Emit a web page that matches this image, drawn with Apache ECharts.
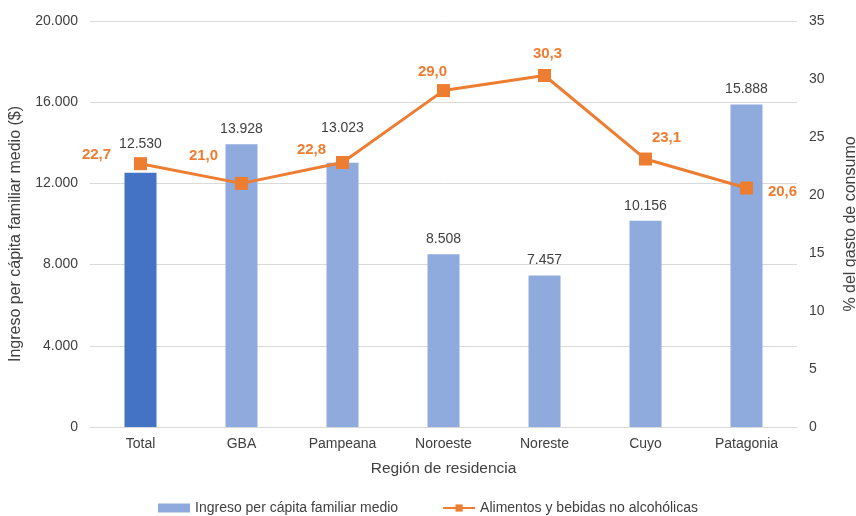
<!DOCTYPE html>
<html><head><meta charset="utf-8">
<script src="https://cdn.jsdelivr.net/npm/echarts@6/dist/echarts.min.js"></script>
<style>html,body{margin:0;padding:0;background:#fff}#c{width:856px;height:516px}</style>
</head><body><div id="c"></div>
<script>
const categories = ['Total','GBA','Pampeana','Noroeste','Noreste','Cuyo','Patagonia'];
const ingreso = [12530, 13928, 13023, 8508, 7457, 10156, 15888];
const alimentos = [22.7, 21.0, 22.8, 29.0, 30.3, 23.1, 20.6];
const leftTicks = [0, 4000, 8000, 12000, 16000, 20000];
const rightTicks = [0, 5, 10, 15, 20, 25, 30, 35];

const fmtThousands = v => String(Math.round(v)).replace(/\B(?=(\d{3})+(?!\d))/g, '.');
const fmtDec = v => v.toFixed(1).replace('.', ',');
const F = 'Liberation Sans, Arial, sans-serif';
const lineLabelOffsets = [[-44,-9],[-38,-28],[-31,-13],[-11,-19],[3,-22],[21,-21],[36,4]];
const barLabelOffsets = [[0,-14],[0,0],[0,-19],[0,0],[0,0],[0,0],[0,0]];

const chart = echarts.init(document.getElementById('c'));
chart.setOption({
  animation: false,
  textStyle: {fontFamily: F},
  grid: {left: 90, right: 59, top: 21, bottom: 89, outerBoundsMode: 'none', containLabel: false},
  legend: {
    bottom: -4, left: 'center', itemGap: 44, itemWidth: 32, itemHeight: 9,
    textStyle: {color: '#404040', fontSize: 14, fontFamily: F},
    data: [
      {name: 'Ingreso per cápita familiar medio', icon: 'rect', itemStyle: {color: '#8FAADC'}},
      {name: 'Alimentos y bebidas no alcohólicas'}
    ]
  },
  xAxis: {
    type: 'category', data: categories,
    name: 'Región de residencia', nameLocation: 'middle', nameGap: 34,
    nameTextStyle: {color: '#404040', fontSize: 15.5, fontFamily: F},
    axisLine: {lineStyle: {color: '#D9D9D9'}}, axisTick: {show: false},
    axisLabel: {color: '#404040', fontSize: 14, margin: 10, fontFamily: F}
  },
  yAxis: [
    {type: 'value', min: 0, max: 20000, interval: 4000,
     name: 'Ingreso per cápita familiar medio ($)', nameLocation: 'middle', nameGap: 66,
     nameTextStyle: {color: '#404040', fontSize: 16, fontFamily: F, padding: [0, 20, 0, 0]},
     axisLabel: {color: '#404040', fontSize: 14, margin: 12, formatter: fmtThousands, fontFamily: F},
     splitLine: {lineStyle: {color: '#D9D9D9'}}, axisLine: {show: false}, axisTick: {show: false}},
    {type: 'value', min: 0, max: 35, interval: 5,
     name: '% del gasto de consumo', nameLocation: 'middle', nameGap: 46,
     nameTextStyle: {color: '#404040', fontSize: 16, fontFamily: F},
     axisLabel: {color: '#404040', fontSize: 14, margin: 12, fontFamily: F},
     splitLine: {show: false}, axisLine: {show: false}, axisTick: {show: false}}
  ],
  series: [
    {name: 'Ingreso per cápita familiar medio', type: 'bar', yAxisIndex: 0, barWidth: 32,
     data: ingreso.map((v, i) => ({value: v, itemStyle: {color: i === 0 ? '#4472C4' : '#8FAADC'},
                                   label: {offset: barLabelOffsets[i]}})),
     label: {show: true, position: 'top', distance: 8, color: '#404040', fontSize: 14, fontFamily: F,
             formatter: p => fmtThousands(p.value)}},
    {name: 'Alimentos y bebidas no alcohólicas', type: 'line', yAxisIndex: 1, z: 3,
     symbol: 'rect', symbolSize: 13, itemStyle: {color: '#ED7D31'},
     lineStyle: {color: '#ED7D31', width: 3},
     data: alimentos.map((v, i) => ({value: v, label: {offset: lineLabelOffsets[i]}})),
     label: {show: true, position: 'inside', color: '#ED7D31', fontSize: 15, fontWeight: 'bold', fontFamily: F,
             formatter: p => fmtDec(p.value)}}
  ]
});
</script></body></html>
